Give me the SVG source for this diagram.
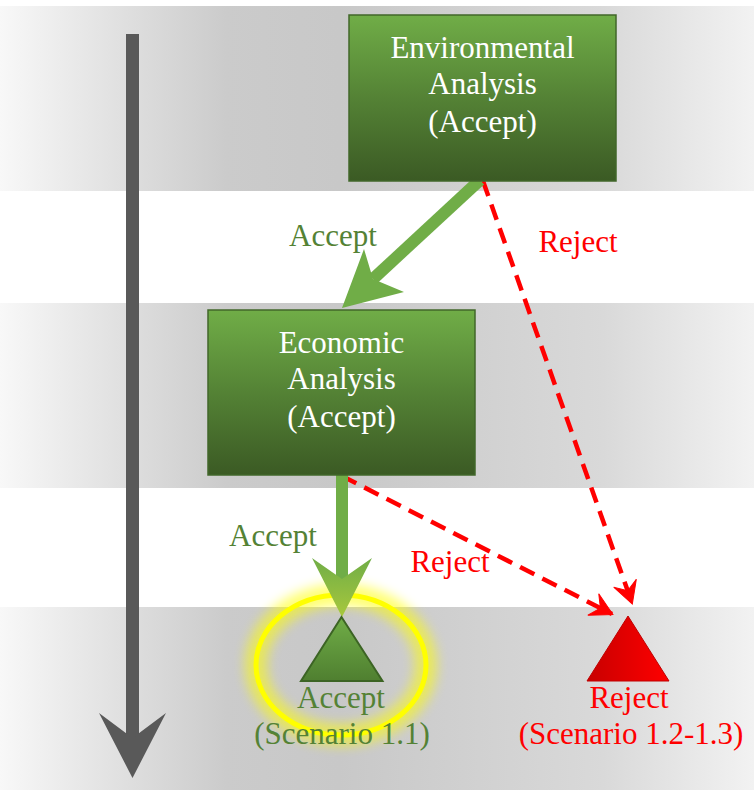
<svg xmlns="http://www.w3.org/2000/svg" width="754" height="790" viewBox="0 0 754 790">
<defs>
<style>
.t{font-family:"Liberation Serif","Times New Roman",serif;font-size:31px;text-anchor:middle}
.w{fill:#ffffff}
.g{fill:#548235}
.r{fill:#ff0000}
.box{fill:url(#boxg);stroke:#41672a;stroke-width:1.5}
.dash{fill:none;stroke:#ff0000;stroke-width:4.5;stroke-dasharray:16 9}
</style>
<linearGradient id="band" x1="0" y1="0" x2="1" y2="0">
<stop offset="0" stop-color="#f8f8f8"/>
<stop offset="0.3" stop-color="#cbcbcb"/>
<stop offset="0.45" stop-color="#c8c8c8"/>
<stop offset="0.8" stop-color="#d9d9d9"/>
<stop offset="1" stop-color="#f2f2f2"/>
</linearGradient>
<linearGradient id="boxg" x1="0" y1="0" x2="0" y2="1">
<stop offset="0" stop-color="#70ad47"/>
<stop offset="0.5" stop-color="#548235"/>
<stop offset="1" stop-color="#3b5a24"/>
</linearGradient>
<linearGradient id="headg" x1="0" y1="0" x2="0" y2="1">
<stop offset="0" stop-color="#70ad47"/>
<stop offset="1" stop-color="#a8c83c"/>
</linearGradient>
<linearGradient id="triG" x1="0" y1="0" x2="0" y2="1">
<stop offset="0" stop-color="#70ad47"/>
<stop offset="1" stop-color="#4f7f30"/>
</linearGradient>
<linearGradient id="triR" x1="0" y1="0" x2="1" y2="0">
<stop offset="0" stop-color="#c80000"/>
<stop offset="1" stop-color="#ff0000"/>
</linearGradient>
<filter id="glow" x="-30%" y="-30%" width="160%" height="160%">
<feGaussianBlur stdDeviation="6"/>
</filter>
<marker id="head" markerUnits="userSpaceOnUse" markerWidth="30" markerHeight="30" viewBox="-24 -15 28 30" refX="0" refY="0" orient="auto">
<path d="M1,0 L-21,-12 L-13,0 L-21,12 Z" fill="#ff0000" stroke="#ff0000" stroke-width="1" stroke-linejoin="miter"/>
</marker>
</defs>

<g id="bands">
<rect x="0" y="6" width="754" height="185" fill="url(#band)"/>
<rect x="0" y="303" width="754" height="185" fill="url(#band)"/>
<rect x="0" y="607" width="754" height="183" fill="url(#band)"/>
</g>

<g id="timeline">
<rect x="126" y="34" width="13" height="706" fill="#595959"/>
<path d="M132.5,778 L99,713 L132.5,738 L166,713 Z" fill="#595959"/>
</g>

<g id="glow-ring">
<ellipse cx="341" cy="665" rx="85" ry="70" fill="none" stroke="#ffff00" stroke-width="22" opacity="0.55" filter="url(#glow)"/>
<ellipse cx="341" cy="665" rx="85" ry="70" fill="none" stroke="#ffff00" stroke-width="5"/>
</g>

<g id="connectors">
<line x1="483" y1="181" x2="632" y2="603" class="dash" marker-end="url(#head)"/>
<line x1="342" y1="476" x2="612" y2="614" class="dash" marker-end="url(#head)"/>
<line x1="480" y1="180" x2="373" y2="279" stroke="#70ad47" stroke-width="12"/>
<path d="M342,308 L364,249 L373,279 L404,292 Z" fill="#70ad47"/>
<rect x="336" y="475" width="12" height="110" fill="#70ad47"/>
<path d="M342,617 L312,558 L342,579 L372,558 Z" fill="url(#headg)"/>
</g>

<g id="env">
<rect x="349" y="15" width="267" height="166" class="box"/>
<text class="t w" x="482.5" y="58">Environmental</text>
<text class="t w" x="482.5" y="94">Analysis</text>
<text class="t w" x="482.5" y="132">(Accept)</text>
</g>

<g id="econ">
<rect x="208" y="310" width="267" height="165" class="box"/>
<text class="t w" x="341.5" y="353">Economic</text>
<text class="t w" x="341.5" y="389">Analysis</text>
<text class="t w" x="341.5" y="427">(Accept)</text>
</g>

<g id="labels">
<text class="t g" x="333" y="246">Accept</text>
<text class="t r" x="578" y="252">Reject</text>
<text class="t g" x="273" y="546">Accept</text>
<text class="t r" x="450" y="572">Reject</text>
</g>

<g id="accept">
<path d="M341.5,617 L301,681 L382.5,681 Z" fill="url(#triG)" stroke="#3c6424" stroke-width="2"/>
<text class="t g" x="341" y="708">Accept</text>
<text class="t g" x="342" y="744">(Scenario 1.1)</text>
</g>

<g id="reject">
<path d="M628,616 L587,681 L669,681 Z" fill="url(#triR)" stroke="#c00000" stroke-width="1"/>
<text class="t r" x="629" y="708">Reject</text>
<text class="t r" x="631" y="744">(Scenario 1.2-1.3)</text>
</g>
</svg>
